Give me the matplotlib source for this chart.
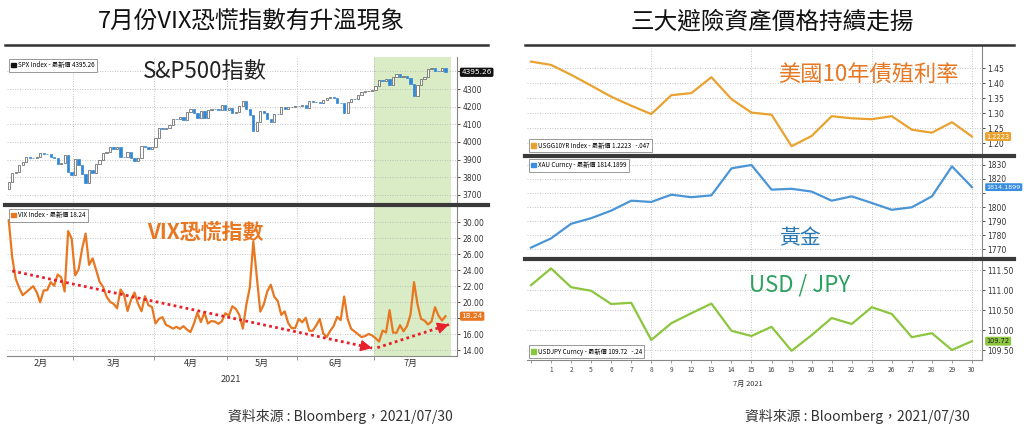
import numpy as np
import pandas as pd
import matplotlib
matplotlib.use('Agg')
import matplotlib.pyplot as plt
from matplotlib.lines import Line2D
from matplotlib.patches import Patch
from matplotlib.transforms import blended_transform_factory

plt.rcParams['font.family'] = ['Noto Sans CJK TC', 'DejaVu Sans']

W, H = 1024, 430

# ---- left chart data: SPX close and VIX close, trading days Feb 1 - Jul 30 2021
holidays = ['2021-02-15', '2021-04-02', '2021-05-31', '2021-07-05']
spx_close = [
    3773.86, 3826.31, 3830.17, 3871.74, 3886.83, 3915.59, 3911.23, 3909.88, 3916.38, 3934.83,
    3932.59, 3931.33, 3913.97, 3906.71, 3876.50, 3881.37, 3925.43, 3829.34, 3811.15,
    3901.82, 3870.29, 3819.72, 3768.47, 3841.94, 3821.35, 3875.44, 3898.81, 3939.34, 3943.34,
    3968.94, 3962.71, 3974.12, 3915.46, 3913.10, 3940.59, 3910.52, 3889.14, 3909.52, 3974.54,
    3971.09, 3958.55, 3972.89,
    4019.87, 4077.91, 4073.94, 4079.95, 4097.17, 4128.80, 4127.99, 4141.59, 4124.66, 4170.42,
    4185.47, 4163.26, 4134.94, 4173.42, 4134.98, 4180.17, 4187.62, 4186.72, 4183.18, 4211.47,
    4181.17,
    4192.66, 4164.66, 4167.59, 4201.62, 4232.60, 4188.43, 4152.10, 4063.04, 4112.50, 4173.85,
    4163.29, 4127.83, 4115.68, 4159.12, 4155.86, 4197.05, 4188.13, 4195.99, 4200.88, 4204.11,
    4202.04, 4208.12, 4192.85, 4229.89, 4226.52, 4227.26, 4219.55, 4239.18, 4247.44, 4255.15,
    4246.59, 4223.70, 4221.86, 4166.45, 4224.79, 4246.44, 4241.84, 4266.49, 4280.70, 4290.61,
    4291.80, 4297.50,
    4319.94, 4352.34, 4343.54, 4358.13, 4320.82, 4369.55, 4384.63, 4369.21, 4374.30, 4360.03,
    4327.16, 4258.49, 4323.06, 4358.69, 4367.48, 4411.79, 4422.30, 4401.46, 4400.64, 4419.15,
    4395.26,
]
spx_first_open = 3731.17
vix_close = [
    30.24, 25.56, 22.91, 21.77, 20.87, 21.24, 21.63, 21.99, 21.25, 19.97,
    21.46, 21.50, 22.49, 22.05, 23.45, 23.11, 21.34, 28.89, 27.95,
    23.35, 24.10, 26.67, 28.57, 24.66, 25.47, 24.03, 22.56, 21.91, 20.69,
    20.03, 19.79, 19.23, 21.58, 20.95, 18.88, 20.30, 21.20, 19.81, 18.86,
    20.74, 19.61, 19.40,
    17.33, 17.91, 18.12, 17.16, 16.95, 16.69, 16.91, 16.65, 16.99, 16.57,
    16.25, 17.29, 18.68, 17.50, 18.71, 17.33, 17.64, 17.56, 17.28, 17.61,
    18.61,
    18.31, 19.48, 19.15, 18.39, 16.69, 19.66, 21.84, 27.59, 23.13, 18.81,
    19.72, 21.34, 22.18, 20.67, 20.15, 18.40, 18.84, 17.36, 16.74, 16.76,
    17.90, 17.48, 18.04, 16.42, 16.42, 17.07, 17.89, 16.10, 15.65, 16.39,
    17.02, 18.15, 17.75, 20.70, 17.89, 16.66, 16.32, 15.97, 15.62, 15.76,
    16.02, 15.83,
    15.48, 15.07, 16.44, 16.20, 19.00, 16.18, 16.17, 17.12, 16.33, 17.01,
    18.45, 22.50, 19.73, 17.91, 17.69, 17.20, 17.58, 19.36, 18.31, 17.70,
    18.24,
]
month_labels = ['2月', '3月', '4月', '5月', '6月', '7月']

# ---- right chart data: Jun 30 - Jul 30 2021
fx_days = ['', '1', '2', '5', '6', '7', '8', '9', '12', '13', '14', '15', '16',
           '19', '20', '21', '22', '23', '26', '27', '28', '29', '30']
us10y = [1.472, 1.461, 1.428, 1.392, 1.355, 1.325, 1.297, 1.360, 1.367, 1.420, 1.347, 1.302,
         1.295, 1.190, 1.224, 1.290, 1.283, 1.280, 1.290, 1.245, 1.235, 1.270, 1.2223]
gold = [1771.0, 1777.6, 1788.0, 1792.0, 1797.4, 1804.5, 1803.6, 1808.8, 1807.0, 1808.3, 1827.6,
        1830.0, 1812.4, 1813.0, 1811.0, 1804.5, 1807.6, 1802.9, 1798.0, 1799.8, 1807.6, 1829.0,
        1814.1899]
usdjpy = [111.12, 111.54, 111.07, 110.98, 110.65, 110.68, 109.75, 110.17, 110.42, 110.66, 109.98,
          109.85, 110.08, 109.48, 109.87, 110.30, 110.15, 110.57, 110.40, 109.82, 109.92, 109.50,
          109.72]

fig = plt.figure(figsize=(W / 100, H / 100), dpi=100)
NARROW = ['Liberation Sans Narrow', 'DejaVu Sans']


def px_axes(l, t, r, b):
    return fig.add_axes([l / W, 1 - b / H, (r - l) / W, (b - t) / H])


def hline(x0, x1, y, lw, color='#333333'):
    fig.add_artist(Line2D([x0 / W, x1 / W], [1 - y / H, 1 - y / H], lw=lw, color=color,
                          transform=fig.transFigure))


def bbg_style(ax, ticks, fmt, hide=None):
    for s in ['top', 'left', 'bottom']:
        ax.spines[s].set_visible(False)
    ax.spines['right'].set_color('#888888')
    ax.spines['right'].set_linewidth(0.8)
    ax.yaxis.tick_right()
    ax.set_yticks(ticks)
    labels = ['' if hide is not None and abs(t - hide) < 1e-9 else fmt % t for t in ticks]
    ax.set_yticklabels(labels, family=NARROW)
    ax.tick_params(axis='y', direction='out', length=2.5, width=0.6, pad=1.5,
                   labelsize=5.5, colors='#333333')
    ax.grid(axis='y', linestyle=(0, (1, 2)), color='#b0b0b0', lw=0.6)
    ax.set_axisbelow(True)


def last_box(ax, y, text, fc, tc, size=5.3):
    tr = blended_transform_factory(ax.transAxes, ax.transData)
    ax.text(1.01, y, text, transform=tr, ha='left', va='center', fontsize=size, color=tc,
            family=NARROW, bbox=dict(boxstyle='round,pad=0.22', fc=fc, ec='none'),
            clip_on=False, zorder=10)


def small_legend(ax, color, label, loc):
    leg = ax.legend([Patch(color=color)], [label], loc=loc, fontsize=4.5, handlelength=0.7,
                    handleheight=0.7, handletextpad=0.3, borderpad=0.4, borderaxespad=0.3,
                    fancybox=False, framealpha=1, edgecolor='#888888')
    leg.get_frame().set_linewidth(0.6)


# ================= left chart =================
dates = pd.bdate_range('2021-02-01', '2021-07-30')
dates = dates[~dates.isin(pd.to_datetime(holidays))]
n = len(dates)
idx = np.arange(n)
month_no = dates.month.values
bounds = [i - 0.5 for i in range(1, n) if month_no[i] != month_no[i - 1]]
centers = [idx[month_no == m].mean() for m in sorted(set(month_no))]
jul_start = bounds[-1]
xl = (-0.5, 128.3)
shade = '#d9ecc6'

ax1 = px_axes(7, 57, 457, 204)
close = np.array(spx_close)
opn = np.r_[spx_first_open, close[:-1]]
up = close >= opn
ax1.axvspan(jul_start, 126.7, color=shade, lw=0, zorder=0)
ax1.bar(idx[up], (close - opn)[up], bottom=opn[up], width=0.65, color='white',
        edgecolor='#555555', lw=0.5, zorder=3)
ax1.bar(idx[~up], (close - opn)[~up], bottom=opn[~up], width=0.65, color='#2f86d6',
        edgecolor='#2f86d6', lw=0.5, zorder=3)
ax1.set_xlim(*xl)
ax1.set_ylim(3648, 4482)
bbg_style(ax1, np.arange(3700, 4401, 100), '%d', hide=4400)
ax1.set_xticks(bounds)
ax1.tick_params(axis='x', length=0, labelbottom=False)
ax1.grid(axis='x', linestyle=(0, (1, 2)), color='#b0b0b0', lw=0.6)
last_box(ax1, spx_close[-1], '%.2f' % spx_close[-1], '#111111', 'white')
small_legend(ax1, '#111111', 'SPX Index - 最新價 %.2f' % spx_close[-1], 'upper left')
ax1.text(0.44, 0.9, 'S&P500指數', transform=ax1.transAxes, ha='center', va='center',
         fontsize=16, color='#222222', weight='medium')

ax2 = px_axes(7, 207, 457, 356)
ax2.axvspan(jul_start, 126.7, color=shade, lw=0, zorder=0)
ax2.plot(idx, vix_close, color='#e87722', lw=1.6, zorder=3)
ax2.set_xlim(*xl)
ax2.set_ylim(13.26, 31.9)
bbg_style(ax2, np.arange(14, 31, 2), '%.2f', hide=18)
ax2.spines['bottom'].set_visible(True)
ax2.spines['bottom'].set_color('#888888')
ax2.set_xticks(bounds)
ax2.set_xticks(centers, minor=True)
ax2.set_xticklabels(month_labels, minor=True)
ax2.tick_params(axis='x', which='major', length=3, width=0.6, color='#888888', labelbottom=False)
ax2.tick_params(axis='x', which='minor', length=0, labelsize=6.5, pad=2, colors='#333333')
ax2.grid(axis='x', which='major', linestyle=(0, (1, 2)), color='#b0b0b0', lw=0.6)
ax2.text(np.mean(xl) - 0.3, -0.13, '2021', transform=blended_transform_factory(ax2.transData, ax2.transAxes),
         ha='center', va='top', fontsize=6.5, color='#333333')
last_box(ax2, vix_close[-1], '%.2f' % vix_close[-1], '#e87722', 'white')
small_legend(ax2, '#e87722', 'VIX Index - 最新價 %.2f' % vix_close[-1], 'upper left')
ax2.text(0.44, 0.83, 'VIX恐慌指數', transform=ax2.transAxes, ha='center', va='center',
         fontsize=15, color='#e87722', weight='bold')

# red dotted trend arrows
red = '#e8202a'
for (x0, y0), (x1, y1) in [((1, 23.9), (104, 14.25)), ((105.5, 14.3), (126, 17.2))]:
    ax2.plot([x0, x1], [y0, y1], color=red, lw=2, linestyle=(0, (1, 1.2)), zorder=5)
    ax2.annotate('', xy=(x1, y1), xytext=(x1 - (x1 - x0) * 0.03, y1 - (y1 - y0) * 0.03),
                 arrowprops=dict(arrowstyle='-|>,head_length=0.7,head_width=0.35', color=red,
                                 lw=1, shrinkA=0, shrinkB=0), zorder=6)

hline(5, 488, 44.5, 1.8)
hline(5, 488, 205, 3.0, '#3a3a3a')

# ================= right chart =================
xi = np.arange(len(fx_days))
vgrid = [6, 11, 17, 22]
rxl = (-0.2, 22.5)

ax3 = px_axes(527, 46, 982, 154)
ax3.plot(xi, us10y, color='#e9a230', lw=1.6, zorder=3)
ax3.set_xlim(*rxl)
ax3.set_ylim(1.164, 1.524)
bbg_style(ax3, np.arange(1.20, 1.46, 0.05), '%.2f')
ax3.set_xticks([])
last_box(ax3, us10y[-1], '%.4f' % us10y[-1], '#e9a230', 'white', 4.8)
small_legend(ax3, '#e9a230', 'USGG10YR Index - 最新價 %.4f   -.047' % us10y[-1], 'lower left')
ax3.text(0.75, 0.74, '美國10年債殖利率', transform=ax3.transAxes, ha='center', va='center',
         fontsize=16, color='#e87722', weight='medium')

ax4 = px_axes(527, 157, 982, 257)
ax4.plot(xi, gold, color='#4a95d6', lw=1.6, zorder=3)
ax4.set_xlim(*rxl)
ax4.set_ylim(1764.3, 1835.7)
bbg_style(ax4, np.arange(1770, 1831, 10), '%d', hide=1810)
ax4.set_xticks([])
last_box(ax4, gold[-1], '%.4f' % gold[-1], '#3a8ee0', 'white', 4.6)
small_legend(ax4, '#3a8ee0', 'XAU Curncy - 最新價 %.4f' % gold[-1], 'upper left')
ax4.text(0.60, 0.19, '黃金', transform=ax4.transAxes, ha='center', va='center',
         fontsize=15, color='#2878b4', weight='medium')

ax5 = px_axes(527, 260, 982, 360)
ax5.plot(xi, usdjpy, color='#8cc63f', lw=1.6, zorder=3)
ax5.set_xlim(*rxl)
ax5.set_ylim(109.25, 111.75)
bbg_style(ax5, np.arange(109.5, 111.51, 0.5), '%.2f')
ax5.spines['bottom'].set_visible(True)
ax5.spines['bottom'].set_color('#888888')
ax5.set_xticks(xi)
ax5.set_xticklabels(fx_days)
ax5.tick_params(axis='x', length=2.5, width=0.6, color='#888888', labelsize=4.8, pad=1.5,
                colors='#444444')
ax5.text(10.8, -0.2, '7月 2021', transform=blended_transform_factory(ax5.transData, ax5.transAxes),
         ha='center', va='top', fontsize=5.3, color='#333333')
last_box(ax5, usdjpy[-1], '%.2f' % usdjpy[-1], '#8cc63f', '#222222', 4.8)
small_legend(ax5, '#8cc63f', 'USDJPY Curncy - 最新價 %.2f   -.24' % usdjpy[-1], 'lower left')
ax5.text(0.60, 0.75, 'USD / JPY', transform=ax5.transAxes, ha='center', va='center',
         fontsize=16, color='#2ba160', weight='medium')

for ax in (ax3, ax4, ax5):
    for v in vgrid:
        ax.axvline(v, linestyle=(0, (1, 2)), color='#b0b0b0', lw=0.6, zorder=1)

hline(525, 1014, 44.5, 1.8)
hline(525, 1014, 155.5, 3.0, '#3a3a3a')
hline(525, 1014, 258.5, 3.0, '#3a3a3a')

# ================= titles and sources =================
fig.text(251 / W, 1 - 22 / H, '7月份VIX恐慌指數有升溫現象', ha='center', va='center',
         fontsize=17, color='#111111', weight='medium')
fig.text(772 / W, 1 - 22 / H, '三大避險資產價格持續走揚', ha='center', va='center',
         fontsize=17, color='#111111', weight='medium')
fig.text(228 / W, 1 - 416 / H, '資料來源 : Bloomberg，2021/07/30', ha='left', va='center',
         fontsize=10, color='#333333')
fig.text(745 / W, 1 - 416 / H, '資料來源 : Bloomberg，2021/07/30', ha='left', va='center',
         fontsize=10, color='#333333')

fig.savefig('out.png', dpi=100, facecolor='white')
